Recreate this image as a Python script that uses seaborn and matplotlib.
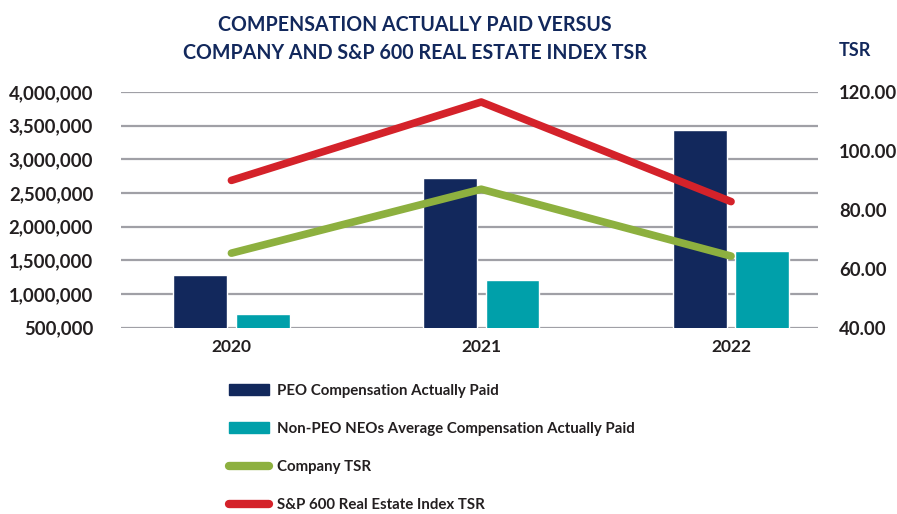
import numpy as np
import pandas as pd
import seaborn as sns
import matplotlib.pyplot as plt
import matplotlib.ticker as mticker
from matplotlib.patches import Patch
from matplotlib.lines import Line2D

# Data
years = ['2020', '2021', '2022']
peo_cap = [1280000, 2720000, 3435000]
non_peo_cap = [708000, 1208000, 1643000]
company_tsr = [65.3, 87.0, 64.3]
sp600_tsr = [90.0, 116.6, 82.8]

bar_names = ['PEO Compensation Actually Paid',
	'Non-PEO NEOs Average Compensation Actually Paid']
line_names = ['Company TSR', 'S&P 600 Real Estate Index TSR']

navy = '#12285c'
teal = '#00a0aa'
green = '#8db03f'
red = '#d4222a'
grid_grey = '#a0a0a6'
text_col = '#231f20'

sns.set_theme(style='white')
plt.rcParams['font.family'] = ['Lato', 'DejaVu Sans']

# Long-format tables for seaborn
bars_df = pd.DataFrame({
	'Year': years * 2,
	'Value': peo_cap + non_peo_cap,
	'Series': [bar_names[0]] * 3 + [bar_names[1]] * 3})
lines_df = pd.DataFrame({
	'Year': years * 2,
	'TSR': company_tsr + sp600_tsr,
	'Series': [line_names[0]] * 3 + [line_names[1]] * 3})

fig = plt.figure(figsize=(8.97, 5.14), dpi=100)
ax = fig.add_axes([0.1349, 0.3625, 0.777, 0.4585])

# Horizontal gridlines behind everything
ax.set_axisbelow(True)
ax.yaxis.grid(True, color=grid_grey, linewidth=1.6)
ax.xaxis.grid(False)

sns.barplot(data=bars_df, x='Year', y='Value', hue='Series',
	palette=[navy, teal], width=0.5, gap=0.14, ax=ax,
	legend=False, saturation=1, zorder=2)

ax.set_ylim(500000, 4000000)
ax.yaxis.set_major_locator(mticker.MultipleLocator(500000))
ax.yaxis.set_major_formatter(mticker.StrMethodFormatter('{x:,.0f}'))

ax2 = ax.twinx()
sns.pointplot(data=lines_df, x='Year', y='TSR', hue='Series',
	palette=[green, red], markers='', errorbar=None, ax=ax2,
	legend=False, linewidth=5.5, solid_capstyle='round')
ax2.set_ylim(40, 120)
ax2.yaxis.set_major_locator(mticker.MultipleLocator(20))
ax2.yaxis.set_major_formatter(mticker.StrMethodFormatter('{x:.2f}'))

ax.set_xlim(-0.442, 2.348)

for a in (ax, ax2):
	for s in a.spines.values():
		s.set_visible(False)
	a.set_xlabel('')
	a.set_ylabel('')
ax.tick_params(axis='y', length=0, pad=20, labelsize=13.3, labelcolor=text_col)
ax.tick_params(axis='x', length=0, pad=8, labelsize=12.5, labelcolor=text_col)
ax2.tick_params(axis='y', length=0, pad=15, labelsize=13.3, labelcolor=text_col)
for lab in ax.get_xticklabels() + ax.get_yticklabels() + ax2.get_yticklabels():
	lab.set_fontweight('bold')

fig.text(839 / 897, 1 - 50 / 514, 'TSR', ha='left', va='center',
	fontsize=13, fontweight='bold', color=navy)

fig.text(415 / 897, 1 - 39 / 514,
	'COMPENSATION ACTUALLY PAID VERSUS\nCOMPANY AND S&P 600 REAL ESTATE INDEX TSR',
	ha='center', va='center', fontsize=14.1, fontweight='bold',
	color=navy, linespacing=1.5)

handles = [Patch(color=navy), Patch(color=teal),
	Line2D([], [], color=green, linewidth=6, solid_capstyle='round'),
	Line2D([], [], color=red, linewidth=6, solid_capstyle='round')]
leg = fig.legend(handles, bar_names + line_names, loc='upper left',
	bbox_to_anchor=(229 / 897, 1 - 384 / 514), frameon=False,
	fontsize=10.8, handlelength=2.65, handleheight=0.72, handletextpad=0.52,
	labelspacing=1.6, borderpad=0, borderaxespad=0)
for t in leg.get_texts():
	t.set_fontweight('bold')
	t.set_color(text_col)

fig.savefig('out.png', dpi=100, facecolor='white')
